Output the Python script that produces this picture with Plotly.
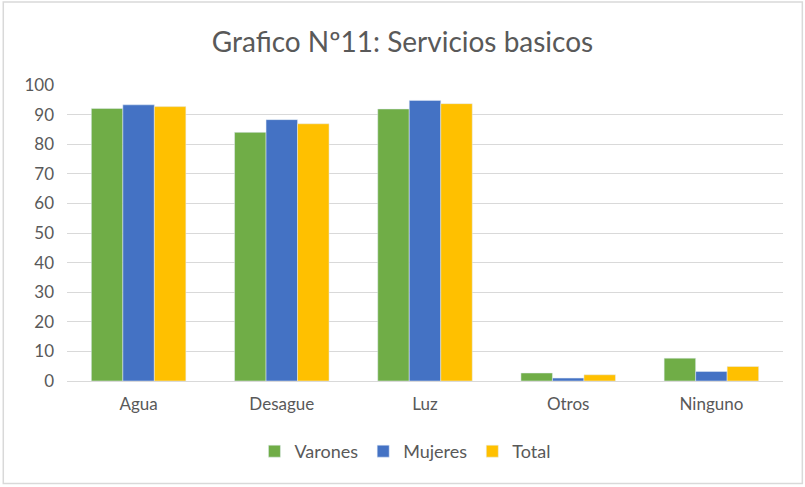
import plotly.graph_objects as go

# Datos
categorias = ['Agua', 'Desague', 'Luz', 'Otros', 'Ninguno']
varones = [92.1, 84.0, 91.9, 2.7, 7.7]
mujeres = [93.3, 88.3, 94.8, 1.0, 3.2]
total = [92.7, 86.9, 93.7, 2.1, 4.9]

gris = '#595959'
fuente = 'Lato, "Open Sans", sans-serif'

fig = go.Figure()
fig.add_trace(go.Bar(x=categorias, y=varones, name='Varones', marker_color='#70AD47'))
fig.add_trace(go.Bar(x=categorias, y=mujeres, name='Mujeres', marker_color='#4472C4'))
fig.add_trace(go.Bar(x=categorias, y=total, name='Total', marker_color='#FFC000'))

fig.update_layout(
    width=805, height=487,
    margin=dict(l=67, r=22, t=85, b=106, autoexpand=False),
    paper_bgcolor='white', plot_bgcolor='white',
    barmode='group', bargap=0.34, bargroupgap=0,
    font=dict(family=fuente, color=gris, size=17),
    title=dict(text='Grafico Nº11: Servicios basicos', x=0.5, xanchor='center',
               y=1 - 42 / 487, yanchor='middle', font=dict(size=28, color=gris)),
    legend=dict(orientation='h', x=0.472, xanchor='center', y=-0.238, yanchor='middle',
                font=dict(size=18, color=gris), itemwidth=30, tracegroupgap=0),
    yaxis=dict(range=[0, 100], dtick=10, showgrid=True, gridcolor='#D9D9D9', gridwidth=1,
               zeroline=False, showline=False, ticks='', tickfont=dict(size=17, color=gris),
               ticklabelstandoff=12),
    xaxis=dict(showline=True, linecolor='#D9D9D9', linewidth=1, ticks='',
               tickfont=dict(size=17, color=gris), ticklabelstandoff=8),
    shapes=[dict(type='rect', xref='paper', yref='paper',
                 x0=-0.089, x1=1.027, y0=-0.346, y1=1.28,
                 line=dict(color='#D9D9D9', width=1.5), fillcolor='rgba(0,0,0,0)')],
)

# quitar el margen del body para que el grafico empiece en (0, 0)
fig.write_html('out.html', config={'displayModeBar': False},
               post_script="document.body.style.margin='0';")
